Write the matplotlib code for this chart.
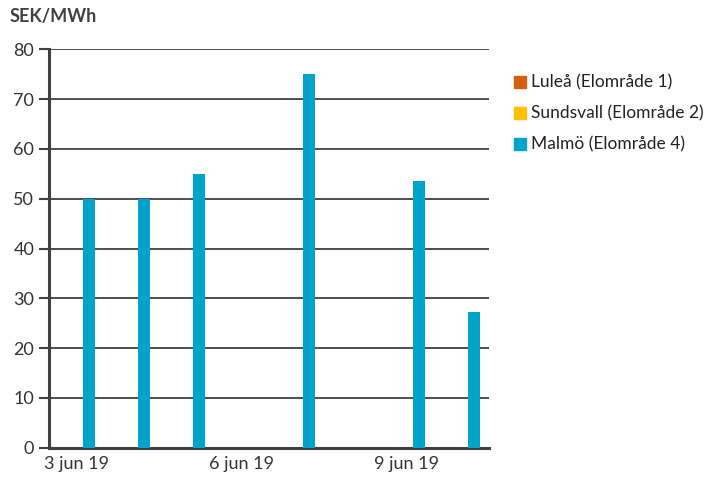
import matplotlib
matplotlib.use("Agg")
import matplotlib.pyplot as plt
import numpy as np

dates = ["3 jun 19", "4 jun 19", "5 jun 19", "6 jun 19", "7 jun 19", "8 jun 19", "9 jun 19", "10 jun 19"]
tick_labels = ["3 jun 19", "", "", "6 jun 19", "", "", "9 jun 19", ""]
lulea = [np.nan] * 8
sundsvall = [np.nan] * 8
malmo = [50, 50, 55, np.nan, 75, np.nan, 53.5, 27.2]
series_names = ["Luleå (Elområde 1)", "Sundsvall (Elområde 2)", "Malmö (Elområde 4)"]
colors = ["#D2600F", "#FFC000", "#00A4CA"]

plt.rcParams['font.family'] = ['Lato', 'DejaVu Sans']
fig = plt.figure(figsize=(7.11, 4.84), dpi=100)
ax = fig.add_axes([0.0696, 0.075, 0.6184, 0.823])

x = np.arange(len(dates))
w = 0.218
for i, (vals, name, c) in enumerate(zip([lulea, sundsvall, malmo], series_names, colors)):
    ax.bar(x + (i - 1) * w, vals, width=w, color=c, label=name, zorder=3)

ax.set_xlim(-0.5, len(dates) - 0.5)
ax.set_ylim(0, 80)
ax.set_yticks(range(0, 81, 10))
ax.set_xticks(x)
ax.set_xticklabels(tick_labels)
ax.tick_params(axis='x', length=0, pad=6, labelsize=13, colors='#333333')
ax.tick_params(axis='y', length=7, width=1.5, color='#404040', pad=4, labelsize=13, labelcolor='#333333')
ax.yaxis.grid(True, color='#404040', linewidth=1.3, zorder=0)
for s in ['top', 'right']:
    ax.spines[s].set_visible(False)
ax.spines['left'].set_linewidth(2.2)
ax.spines['left'].set_color('#404040')
ax.spines['bottom'].set_linewidth(2.2)
ax.spines['bottom'].set_color('#404040')

fig.text(0.014, 0.965, "SEK/MWh", fontsize=13, fontweight='bold', color='#404040', va='center', ha='left')

handles = [plt.Rectangle((0, 0), 1, 1, color=c) for c in colors]
fig.legend(handles, series_names, loc='upper left', bbox_to_anchor=(0.7225, 0.846),
           frameon=False, fontsize=12.5, handlelength=0.69, handleheight=0.69,
           handletextpad=0.3, labelspacing=0.86, labelcolor='#222222',
           borderpad=0, borderaxespad=0)

fig.savefig("out.png", dpi=100)
